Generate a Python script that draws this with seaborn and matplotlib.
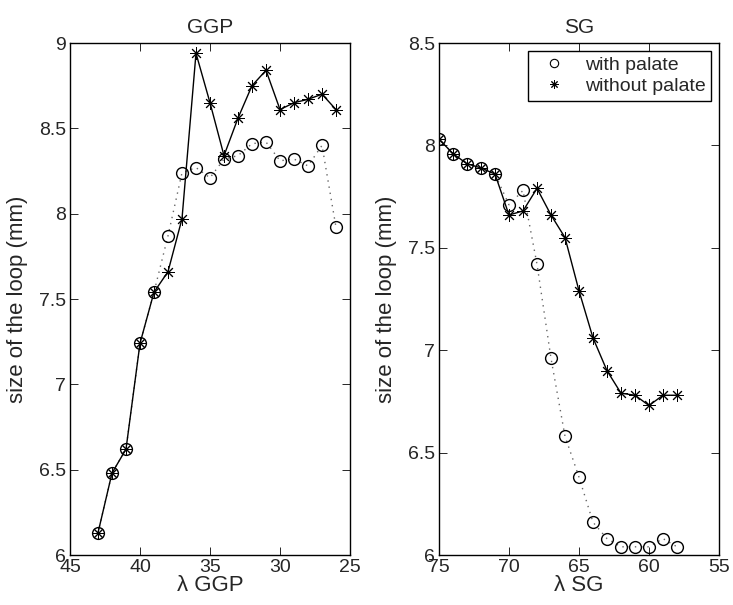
import matplotlib
matplotlib.use("Agg")
import matplotlib.pyplot as plt
import seaborn as sns
import pandas as pd
from matplotlib.lines import Line2D
from matplotlib.ticker import FuncFormatter

# ---- data ----
ggp_lambda = [43, 42, 41, 40, 39, 38, 37, 36, 35, 34, 33, 32, 31, 30, 29, 28, 27, 26]
ggp_with = [6.13, 6.48, 6.62, 7.24, 7.54, 7.87, 8.24, 8.27, 8.21, 8.32, 8.34, 8.41, 8.42, 8.31, 8.32, 8.28, 8.40, 7.92]
ggp_without = [6.13, 6.48, 6.62, 7.24, 7.54, 7.66, 7.97, 8.94, 8.65, 8.34, 8.56, 8.75, 8.84, 8.61, 8.65, 8.67, 8.70, 8.61]

sg_lambda = [75, 74, 73, 72, 71, 70, 69, 68, 67, 66, 65, 64, 63, 62, 61, 60, 59, 58]
sg_with = [8.03, 7.96, 7.91, 7.89, 7.86, 7.71, 7.78, 7.42, 6.96, 6.58, 6.38, 6.16, 6.08, 6.04, 6.04, 6.04, 6.08, 6.04]
sg_without = [8.03, 7.96, 7.91, 7.89, 7.86, 7.66, 7.68, 7.79, 7.66, 7.55, 7.29, 7.06, 6.90, 6.79, 6.78, 6.73, 6.78, 6.78]

ggp_xticks = [45, 40, 35, 30, 25]
ggp_yticks = [6, 6.5, 7, 7.5, 8, 8.5, 9]
sg_xticks = [75, 70, 65, 60, 55]
sg_yticks = [6, 6.5, 7, 7.5, 8, 8.5]

legend_labels = ["with palate", "without palate"]

sns.set_style("white")
plt.rcParams["font.family"] = ["Liberation Sans", "DejaVu Sans"]
plt.rcParams["font.size"] = 14

fig = plt.figure(figsize=(7.33, 6.05), dpi=100)
W, H = 733, 605
ax1 = fig.add_axes([70 / W, 1 - 555 / H, 280 / W, 512 / H])
ax2 = fig.add_axes([439 / W, 1 - 555 / H, 280 / W, 512 / H])

fmt = FuncFormatter(lambda v, p: f"{v:g}")
ASTER = (8, 2, 0)


def draw(ax, lam, w, wo, xlim, ylim, xt, yt, title, xlabel):
    df = pd.DataFrame({"lam": lam, "with": w, "without": wo})
    sns.lineplot(data=df, x="lam", y="with", ax=ax, sort=False, color="0.4",
                 linestyle=(0, (1, 3.5)), linewidth=1.0, marker="o", markersize=8.5,
                 markerfacecolor="none", markeredgecolor="k", markeredgewidth=1.0)
    sns.lineplot(data=df, x="lam", y="without", ax=ax, sort=False, color="k",
                 linewidth=1.0, marker=ASTER, markersize=9,
                 markerfacecolor="k", markeredgecolor="k", markeredgewidth=0.7)
    ax.set_xlim(*xlim)
    ax.set_ylim(*ylim)
    ax.set_xticks(xt)
    ax.set_yticks(yt)
    ax.xaxis.set_major_formatter(fmt)
    ax.yaxis.set_major_formatter(fmt)
    ax.tick_params(direction="in", top=True, right=True, bottom=True, left=True,
                   length=6, width=0.7, labelsize=14, pad=3)
    for s in ax.spines.values():
        s.set_visible(True)
        s.set_color("k")
        s.set_linewidth(1.0)
    ax.set_title(title, fontsize=15, pad=7)
    ax.set_xlabel(xlabel, fontsize=16, labelpad=-1)
    ax.set_ylabel("size of the loop (mm)", fontsize=16, labelpad=8)


draw(ax1, ggp_lambda, ggp_with, ggp_without, (45, 25), (6, 9),
     ggp_xticks, ggp_yticks, "GGP", "λ GGP")
draw(ax2, sg_lambda, sg_with, sg_without, (75, 55), (6, 8.5),
     sg_xticks, sg_yticks, "SG", "λ SG")

handles = [
    Line2D([], [], linestyle="none", marker="o", markersize=6,
           markerfacecolor="none", markeredgecolor="k", markeredgewidth=0.8),
    Line2D([], [], linestyle="none", marker=ASTER, markersize=6,
           markerfacecolor="k", markeredgecolor="k", markeredgewidth=0.7),
]
leg = ax2.legend(handles, legend_labels, loc="upper right", fontsize=14,
                 frameon=True, fancybox=False, edgecolor="k", framealpha=1,
                 borderaxespad=0.4, handlelength=2.0, handletextpad=0.6,
                 borderpad=0.3, labelspacing=0.15)
leg.get_frame().set_linewidth(1.0)

fig.savefig("out.png", dpi=100)
